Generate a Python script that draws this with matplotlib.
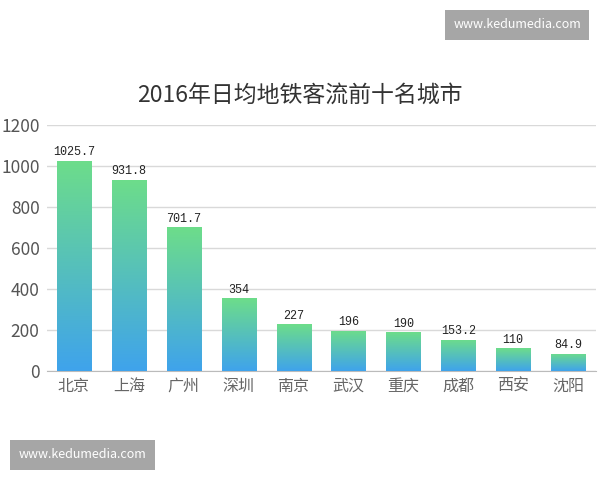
import matplotlib.pyplot as plt
import numpy as np
from matplotlib.colors import LinearSegmentedColormap
from matplotlib.patches import FancyBboxPatch

plt.rcParams['font.family'] = ['Noto Sans CJK SC', 'DejaVu Sans']

cities = ["北京", "上海", "广州", "深圳", "南京", "武汉", "重庆", "成都", "西安", "沈阳"]
values = [1025.7, 931.8, 701.7, 354, 227, 196, 190, 153.2, 110, 84.9]
labels = ["1025.7", "931.8", "701.7", "354", "227", "196", "190", "153.2", "110", "84.9"]
yticks = [0, 200, 400, 600, 800, 1000, 1200]

fig = plt.figure(figsize=(6, 4.8), dpi=100)
ax = fig.add_axes([0.0775, 0.227, 0.915, 0.513])

cmap = LinearSegmentedColormap.from_list("gb", ["#3fa3ec", "#6ddd8a"])
grad = np.linspace(0, 1, 256).reshape(-1, 1)

x = np.arange(len(cities))
bars = ax.bar(x, values, width=0.62, color="none", edgecolor="none", zorder=3)
for b in bars:
    x0, w, h = b.get_x(), b.get_width(), b.get_height()
    im = ax.imshow(grad, cmap=cmap, aspect="auto", origin="lower",
                   extent=[x0, x0 + w, 0, h], zorder=3)
    im.set_clip_path(b)

for xi, v, t in zip(x, values, labels):
    ax.text(xi, v + 12, t, ha="center", va="bottom", fontsize=8.5,
            color="#222222", family=["Liberation Mono", "DejaVu Sans Mono"], zorder=4)

ax.set_xlim(-0.5, 9.5)
ax.set_ylim(0, 1200)
ax.set_yticks(yticks)
ax.set_yticklabels([str(t) for t in yticks], fontsize=12.5, color="#555555")
ax.set_xticks(x)
ax.set_xticklabels(cities, fontsize=11.5, color="#666666")
ax.tick_params(axis="both", length=0, pad=5)
ax.grid(axis="y", color="#d9d9d9", linewidth=1, zorder=0)
for s in ["top", "right", "left"]:
    ax.spines[s].set_visible(False)
ax.spines["bottom"].set_color("#bbbbbb")

fig.text(0.5, 0.80, "2016年日均地铁客流前十名城市", ha="center", va="center",
         fontsize=16.5, color="#333333")

# watermarks
for (bx, by, bw, bh) in [(0.742, 0.917, 0.24, 0.063), (0.017, 0.021, 0.242, 0.063)]:
    fig.patches.append(FancyBboxPatch((bx, by), bw, bh, boxstyle="square,pad=0",
                                      transform=fig.transFigure, facecolor="#a6a6a6",
                                      edgecolor="none"))
    fig.text(bx + bw / 2, by + bh / 2, "www.kedumedia.com", ha="center", va="center",
             fontsize=9, color="white")

fig.savefig("out.png", dpi=100)
